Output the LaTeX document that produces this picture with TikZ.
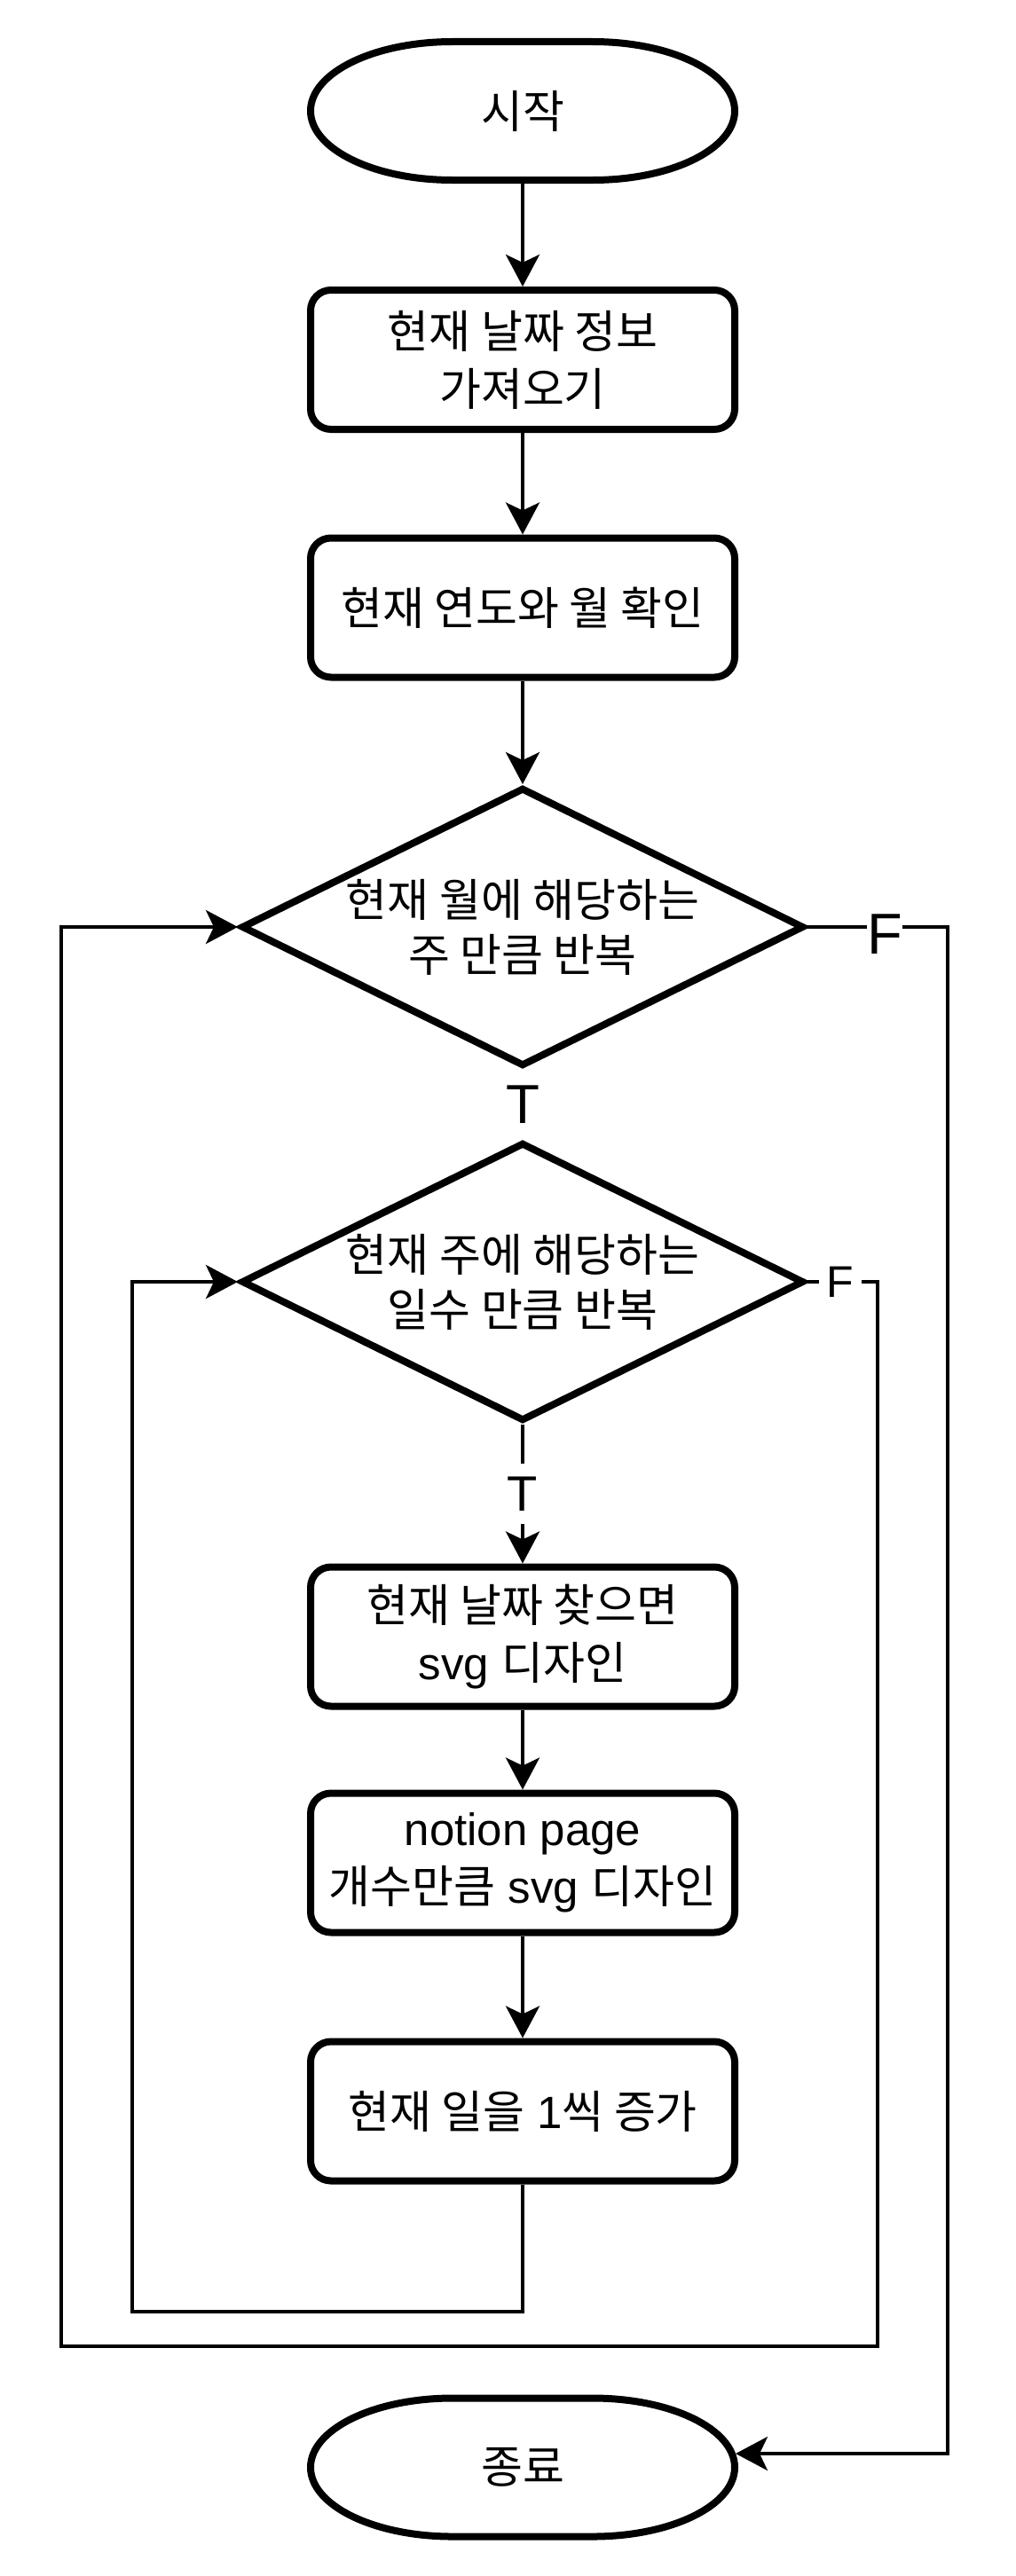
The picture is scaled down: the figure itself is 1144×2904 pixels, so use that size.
\documentclass[tikz,border=0pt]{standalone}
\usepackage{fontspec}
\setmainfont{Liberation Sans}
\newfontfamily\kr{Noto Sans CJK KR}
\usetikzlibrary{arrows.meta,shapes.geometric}
\begin{document}
\begin{tikzpicture}[x=1pt,y=1pt,
  shapeline/.style={draw=black,line width=8pt},
  box/.style={draw=black,line width=8pt,rounded corners=23pt,minimum width=478pt,minimum height=157pt,inner sep=0pt,align=center,font=\fontsize{51}{65}\selectfont},
  termtext/.style={minimum width=478pt,minimum height=156pt,inner sep=0pt,outer sep=4pt,align=center,font=\fontsize{51}{65}\selectfont},
  dia/.style={draw=black,diamond,line width=8pt,minimum width=634pt,minimum height=314pt,inner sep=0pt},
  dtext/.style={inner sep=0pt,align=center,font=\fontsize{51}{62}\selectfont},
  conn/.style={line width=4pt,-{Stealth[length=36pt,width=38pt,inset=9pt]}},
  plain/.style={line width=4pt},
  lab/.style={fill=white,inner sep=0pt}
]
\fill[white] (0,0) rectangle (1144,-2904);
\useasboundingbox (0,0) rectangle (1144,-2904);

% start terminator
\node[termtext] (start) at (589,-125) {{\kr 시작}};
\draw[shapeline] (510,-47) -- (668,-47) arc[start angle=90,end angle=-90,x radius=160,y radius=78] -- (510,-203) arc[start angle=270,end angle=90,x radius=160,y radius=78] -- cycle;

\node[box] (b1) at (589,-405.5) {{\kr 현재 날짜 정보}\\{\kr 가져오기}};
\node[box] (b2) at (589,-685) {{\kr 현재 연도와 월 확인}};

\node[dia] (d1) at (589,-1045) {};
\node[dtext] (d1t) at (589,-1045) {{\kr 현재 월에 해당하는}\\{\kr 주 만큼 반복}};
\node[dia] (d2) at (589,-1445) {};
\node[dtext] (d2t) at (589,-1445) {{\kr 현재 주에 해당하는}\\{\kr 일수 만큼 반복}};

\node[box] (b5) at (589,-1845) {{\kr 현재 날짜 찾으면}\\svg {\kr 디자인}};
\node[box] (b6) at (589,-2100) {notion page\\{\kr 개수만큼} svg {\kr 디자인}};
\node[box] (b7) at (589,-2380) {{\kr 현재 일을} 1{\kr 씩 증가}};

% end terminator
\node[termtext] (end) at (589,-2781.5) {{\kr 종료}};
\draw[shapeline] (510,-2703.5) -- (668,-2703.5) arc[start angle=90,end angle=-90,x radius=160,y radius=78] -- (510,-2859.5) arc[start angle=270,end angle=90,x radius=160,y radius=78] -- cycle;

% corner coordinates
\coordinate (c1) at (149,-2606);
\coordinate (c2) at (989,-2645);
\coordinate (c3) at (69,-2645);
\coordinate (c4) at (1068,-2766);
\coordinate (endpt) at (829,-2766);

% main flow
\draw[conn] (start) -- (b1);
\draw[conn] (b1) -- (b2);
\draw[conn] (b2) -- (d1);
\draw[plain] (d1.south) -- node[lab,minimum width=40pt,minimum height=80pt,font=\fontsize{62}{74}\selectfont] (t1) {T} (d2.north);
\draw[conn] (d2.south) -- node[lab,minimum width=40pt,minimum height=68pt,font=\fontsize{56}{67}\selectfont] (t2) {T} (b5.north);
\draw[conn] (b5) -- (b6);
\draw[conn] (b6) -- (b7);

% inner loop
\draw[conn] (b7.south) |- (c1) |- (d2.west);
% outer loop (F of inner decision)
\draw[conn] (d2.east) -- node[lab,pos=0.47,minimum width=48pt,minimum height=50pt,font=\fontsize{50}{60}\selectfont] (f2) {F} (d2.east -| c2) -- (c2) -- (c3) |- (d1.west);
% exit (F of outer decision)
\draw[conn] (d1.east) -- node[lab,pos=0.55,yshift=-8pt,minimum width=40pt,minimum height=60pt,font=\fontsize{65}{78}\selectfont] (f1) {F} (d1.east -| c4) -- (c4) -- (endpt);
\end{tikzpicture}
\end{document}
